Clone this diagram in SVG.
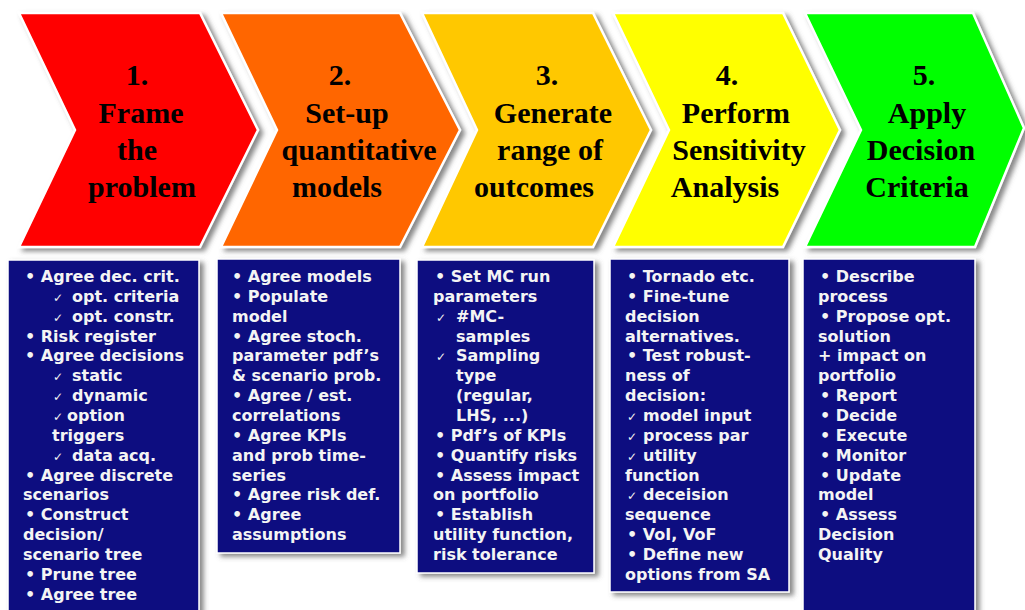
<svg xmlns="http://www.w3.org/2000/svg" width="1025" height="610" viewBox="0 0 1025 610">
<defs>
<filter id="sh" x="-10%" y="-10%" width="125%" height="125%">
<feGaussianBlur in="SourceAlpha" stdDeviation="2.5" result="b"/>
<feOffset in="b" dx="4" dy="3" result="o"/>
<feFlood flood-color="#555" flood-opacity="0.7"/>
<feComposite in2="o" operator="in" result="s"/>
<feMerge><feMergeNode in="s"/><feMergeNode in="SourceGraphic"/></feMerge>
</filter>
</defs>
<style>
.chev{stroke:#fff;stroke-width:2.5;stroke-linejoin:miter;filter:url(#sh)}
.box{fill:#0F0D80;stroke:#fff;stroke-width:1.5;filter:url(#sh)}
.ttl{font-family:"Liberation Serif","Times New Roman",serif;font-weight:bold;font-size:30px;fill:#000;text-anchor:middle}
.bt{font-family:"DejaVu Sans",Verdana,sans-serif;font-weight:bold;font-size:16px;fill:#F4F4F4}
.ck{font-family:"DejaVu Sans",sans-serif;font-weight:normal;font-size:12px;fill:#F4F4F4}
</style>
<rect width="1025" height="610" fill="#fff"/>

<g id="step1">
<polygon class="chev" fill="#FF0000" points="19,13 200,13 258,130 200,247 19,247 75,130"/>
<text class="ttl" x="137" y="85">1.</text>
<text class="ttl" x="141" y="123">Frame</text>
<text class="ttl" x="137" y="160">the</text>
<text class="ttl" x="142" y="197">problem</text>
<rect class="box" x="8" y="260" width="191" height="370"/>
<text class="bt" x="25" y="282">• Agree dec. crit.</text>
<text class="ck" x="53" y="301.8">✓</text><text class="bt" x="72" y="301.8">opt. criteria</text>
<text class="ck" x="53" y="321.7">✓</text><text class="bt" x="72" y="321.7">opt. constr.</text>
<text class="bt" x="25" y="341.5">• Risk register</text>
<text class="bt" x="25" y="361.4">• Agree decisions</text>
<text class="ck" x="53" y="381.2">✓</text><text class="bt" x="72" y="381.2">static</text>
<text class="ck" x="53" y="401.1">✓</text><text class="bt" x="72" y="401.1">dynamic</text>
<text class="ck" x="53" y="421">✓</text><text class="bt" x="67" y="421">option</text>
<text class="bt" x="52" y="440.8">triggers</text>
<text class="ck" x="53" y="460.6">✓</text><text class="bt" x="72" y="460.6">data acq.</text>
<text class="bt" x="25" y="480.5">• Agree discrete</text>
<text class="bt" x="23" y="500.3">scenarios</text>
<text class="bt" x="25" y="520.2">• Construct</text>
<text class="bt" x="23" y="540">decision/</text>
<text class="bt" x="23" y="559.9">scenario tree</text>
<text class="bt" x="25" y="579.7">• Prune tree</text>
<text class="bt" x="25" y="599.6">• Agree tree</text>
</g>

<g id="step2">
<polygon class="chev" fill="#FF6600" points="221,13 400,13 460,130 400,247 221,247 277,130"/>
<text class="ttl" x="340" y="85">2.</text>
<text class="ttl" x="347" y="123">Set-up</text>
<text class="ttl" x="359" y="160">quantitative</text>
<text class="ttl" x="337" y="197">models</text>
<rect class="box" x="217" y="259" width="183" height="294"/>
<text class="bt" x="232" y="282">• Agree models</text>
<text class="bt" x="232" y="301.8">• Populate</text>
<text class="bt" x="232" y="321.7">model</text>
<text class="bt" x="232" y="341.5">• Agree stoch.</text>
<text class="bt" x="232" y="361.4">parameter pdf’s</text>
<text class="bt" x="232" y="381.2">&amp; scenario prob.</text>
<text class="bt" x="232" y="401.1">• Agree / est.</text>
<text class="bt" x="232" y="421">correlations</text>
<text class="bt" x="232" y="440.8">• Agree KPIs</text>
<text class="bt" x="232" y="460.6">and prob time-</text>
<text class="bt" x="232" y="480.5">series</text>
<text class="bt" x="232" y="500.3">• Agree risk def.</text>
<text class="bt" x="232" y="520.2">• Agree</text>
<text class="bt" x="232" y="540">assumptions</text>
</g>

<g id="step3">
<polygon class="chev" fill="#FFC800" points="422,13 593,13 651,130 593,247 422,247 477,130"/>
<text class="ttl" x="547" y="85">3.</text>
<text class="ttl" x="553" y="123">Generate</text>
<text class="ttl" x="550" y="160">range of</text>
<text class="ttl" x="534" y="197">outcomes</text>
<rect class="box" x="417" y="260" width="177" height="313"/>
<text class="bt" x="435" y="282">• Set MC run</text>
<text class="bt" x="433" y="301.8">parameters</text>
<text class="ck" x="436" y="321.7">✓</text><text class="bt" x="456" y="321.7">#MC-</text>
<text class="bt" x="456" y="341.5">samples</text>
<text class="ck" x="436" y="361.4">✓</text><text class="bt" x="456" y="361.4">Sampling</text>
<text class="bt" x="456" y="381.2">type</text>
<text class="bt" x="456" y="401.1">(regular,</text>
<text class="bt" x="456" y="421">LHS, ...)</text>
<text class="bt" x="435" y="440.8">• Pdf’s of KPIs</text>
<text class="bt" x="435" y="460.6">• Quantify risks</text>
<text class="bt" x="435" y="480.5">• Assess impact</text>
<text class="bt" x="433" y="500.3">on portfolio</text>
<text class="bt" x="435" y="520.2">• Establish</text>
<text class="bt" x="433" y="540">utility function,</text>
<text class="bt" x="433" y="559.9">risk tolerance</text>
</g>

<g id="step4">
<polygon class="chev" fill="#FFFF00" points="613,13 783,13 840,130 783,247 613,247 669,130"/>
<text class="ttl" x="727" y="85">4.</text>
<text class="ttl" x="736" y="123">Perform</text>
<text class="ttl" x="739" y="160">Sensitivity</text>
<text class="ttl" x="725" y="197">Analysis</text>
<rect class="box" x="610" y="259" width="179" height="333"/>
<text class="bt" x="627" y="282">• Tornado etc.</text>
<text class="bt" x="627" y="301.8">• Fine-tune</text>
<text class="bt" x="625" y="321.7">decision</text>
<text class="bt" x="625" y="341.5">alternatives.</text>
<text class="bt" x="627" y="361.4">• Test robust-</text>
<text class="bt" x="625" y="381.2">ness of</text>
<text class="bt" x="625" y="401.1">decision:</text>
<text class="ck" x="627" y="421">✓</text><text class="bt" x="643" y="421">model input</text>
<text class="ck" x="627" y="440.8">✓</text><text class="bt" x="643" y="440.8">process par</text>
<text class="ck" x="627" y="460.6">✓</text><text class="bt" x="643" y="460.6">utility</text>
<text class="bt" x="625" y="480.5">function</text>
<text class="ck" x="627" y="500.3">✓</text><text class="bt" x="643" y="500.3">deceision</text>
<text class="bt" x="625" y="520.2">sequence</text>
<text class="bt" x="627" y="540">• VoI, VoF</text>
<text class="bt" x="627" y="559.9">• Define new</text>
<text class="bt" x="625" y="579.7">options from SA</text>
</g>

<g id="step5">
<polygon class="chev" fill="#00FF00" points="805,13 973,13 1024,128 975,247 805,247 861,130"/>
<text class="ttl" x="924" y="85">5.</text>
<text class="ttl" x="927" y="123">Apply</text>
<text class="ttl" x="921" y="160">Decision</text>
<text class="ttl" x="917" y="197">Criteria</text>
<rect class="box" x="803" y="259" width="172" height="370"/>
<text class="bt" x="820" y="282">• Describe</text>
<text class="bt" x="818" y="301.8">process</text>
<text class="bt" x="820" y="321.7">• Propose opt.</text>
<text class="bt" x="818" y="341.5">solution</text>
<text class="bt" x="818" y="361.4">+ impact on</text>
<text class="bt" x="818" y="381.2">portfolio</text>
<text class="bt" x="820" y="401.1">• Report</text>
<text class="bt" x="820" y="421">• Decide</text>
<text class="bt" x="820" y="440.8">• Execute</text>
<text class="bt" x="820" y="460.6">• Monitor</text>
<text class="bt" x="820" y="480.5">• Update</text>
<text class="bt" x="818" y="500.3">model</text>
<text class="bt" x="820" y="520.2">• Assess</text>
<text class="bt" x="818" y="540">Decision</text>
<text class="bt" x="818" y="559.9">Quality</text>
</g>

<g id="connectors"/>
</svg>
